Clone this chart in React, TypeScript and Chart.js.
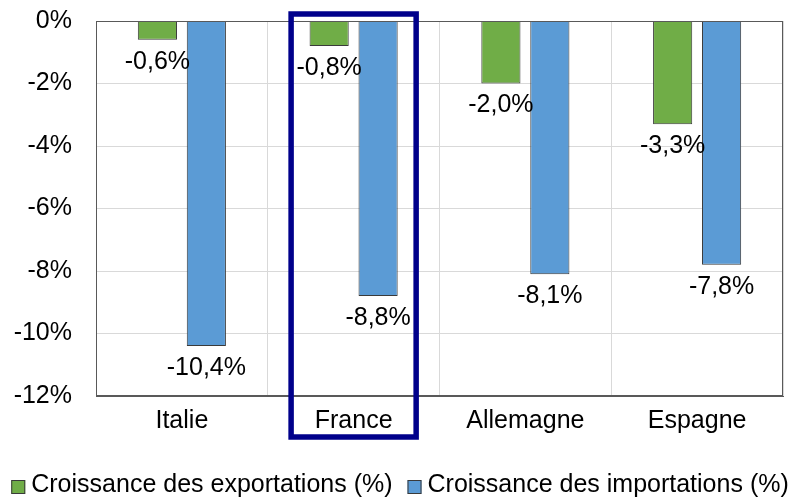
import React, { useEffect, useRef } from "react";
import { Chart, registerables } from "chart.js";

Chart.register(...registerables);

const categories = ["Italie", "France", "Allemagne", "Espagne"];
const exportsGrowth = [-0.6, -0.8, -2.0, -3.3];
const importsGrowth = [-10.4, -8.8, -8.1, -7.8];
const seriesLabels = ["Croissance des exportations (%)", "Croissance des importations (%)"];
const yTicks = [0, -2, -4, -6, -8, -10, -12];
const highlightedCategory = "France";

const FONT = "'Liberation Sans', Arial, sans-serif";
const FS = 25;

const fmt = (v: number) => v.toFixed(1).replace(".", ",") + "%";

const valueLabels = {
  id: "valueLabels",
  afterDatasetsDraw(chart: any) {
    const ctx = chart.ctx;
    ctx.save();
    ctx.font = `${FS}px ${FONT}`;
    ctx.fillStyle = "#000";
    ctx.textAlign = "center";
    ctx.textBaseline = "middle";
    chart.data.datasets.forEach((ds: any, i: number) => {
      const meta = chart.getDatasetMeta(i);
      meta.data.forEach((bar: any, j: number) => {
        ctx.fillText(fmt(ds.data[j]), bar.x, bar.y + 22);
      });
    });
    ctx.restore();
  },
};

const highlightBox = {
  id: "highlightBox",
  afterDraw(chart: any) {
    const x = chart.scales.x;
    const idx = categories.indexOf(highlightedCategory);
    const cx = x.getPixelForValue(idx);
    const cw = (x.right - x.left) / categories.length;
    const half = cw * 0.364;
    const { top, bottom } = chart.chartArea;
    const ctx = chart.ctx;
    ctx.save();
    ctx.strokeStyle = "#00008B";
    ctx.lineWidth = 5.5;
    ctx.strokeRect(cx - half, top - 7, half * 2, bottom - top + 48);
    ctx.restore();
  },
};

const customLegend = {
  id: "customLegend",
  afterDraw(chart: any) {
    const ctx = chart.ctx;
    ctx.save();
    ctx.font = `${FS}px ${FONT}`;
    ctx.textBaseline = "middle";
    ctx.textAlign = "left";
    const box = 14;
    const gapBoxText = 6;
    const gapItems = 15;
    const items = chart.data.datasets.map((ds: any) => ({
      label: ds.label,
      color: ds.backgroundColor,
      w: box + gapBoxText + ctx.measureText(ds.label).width,
    }));
    const total = items.reduce((a: number, it: any) => a + it.w, 0) + gapItems * (items.length - 1);
    let x = 400 - total / 2;
    const y = 487;
    items.forEach((it: any) => {
      ctx.fillStyle = it.color;
      ctx.fillRect(x, y - box / 2, box, box);
      ctx.strokeStyle = "#3a3a3a";
      ctx.lineWidth = 1;
      ctx.strokeRect(x + 0.5, y - box / 2 + 0.5, box - 1, box - 1);
      ctx.fillStyle = "#000";
      ctx.fillText(it.label, x + box + gapBoxText, y - 2);
      x += it.w + gapItems;
    });
    ctx.restore();
  },
};

export default function App() {
  const ref = useRef<HTMLCanvasElement>(null);
  useEffect(() => {
    if (!ref.current) return;
    const chart = new Chart(ref.current, {
      type: "bar",
      data: {
        labels: categories,
        datasets: [
          {
            label: seriesLabels[0],
            data: exportsGrowth,
            backgroundColor: "#70AD47",
            borderColor: "#3a3a3a",
            borderWidth: 1,
            categoryPercentage: 0.57,
            barPercentage: 0.8,
          },
          {
            label: seriesLabels[1],
            data: importsGrowth,
            backgroundColor: "#5B9BD5",
            borderColor: "#3a3a3a",
            borderWidth: 1,
            categoryPercentage: 0.57,
            barPercentage: 0.8,
          },
        ],
      },
      options: {
        animation: false,
        responsive: false,
        maintainAspectRatio: false,
        layout: { padding: { left: 0, right: 7, top: 21, bottom: 60 } },
        plugins: {
          tooltip: { enabled: false },
          legend: { display: false },
        },
        scales: {
          x: {
            grid: { color: "#d9d9d9", drawTicks: false, offset: true },
            border: { color: "#595959", width: 1 },
            ticks: { font: { family: FONT, size: FS }, color: "#000", padding: 10 },
            afterFit: (s: any) => {
              s.height = 42;
              s.paddingLeft = 0;
              s.paddingRight = 0;
            },
          },
          y: {
            min: -12,
            max: 0,
            afterBuildTicks: (s: any) => {
              s.ticks = yTicks.map((v) => ({ value: v }));
            },
            grid: { color: "#d9d9d9", drawTicks: false },
            border: { color: "#595959", width: 1 },
            ticks: {
              font: { family: FONT, size: FS },
              color: "#000",
              padding: 24,
              callback: (v: any) => `${v}%`,
            },
            afterFit: (s: any) => {
              s.width = 96;
              s.paddingTop = 0;
              s.paddingBottom = 0;
            },
          },
        },
      },
      plugins: [
        valueLabels,
        highlightBox,
        customLegend,
        {
          id: "frame",
          afterDatasetsDraw(chart: any) {
            const { left, right, top, bottom } = chart.chartArea;
            const ctx = chart.ctx;
            ctx.save();
            ctx.strokeStyle = "#595959";
            ctx.lineWidth = 1;
            ctx.strokeRect(left + 0.5, top + 0.5, right - left - 1, bottom - top - 1);
            ctx.restore();
          },
        },
      ],
    } as any);
    return () => chart.destroy();
  }, []);
  return (
    <div style={{ position: "absolute", left: 0, top: 0, width: 790, height: 498, background: "#fff" }}>
      <canvas ref={ref} width={790} height={498} style={{ width: 790, height: 498 }} />
    </div>
  );
}
